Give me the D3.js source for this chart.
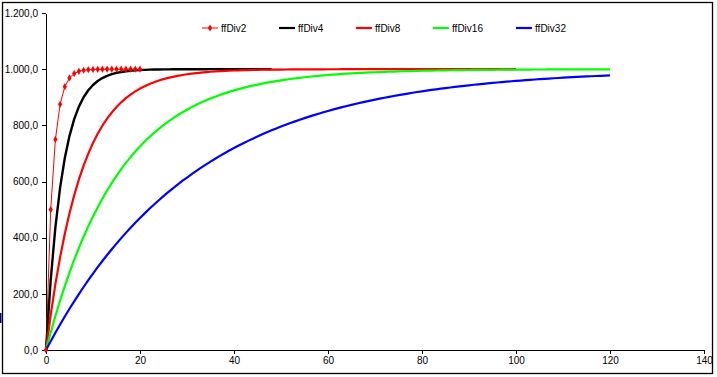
<!DOCTYPE html>
<meta charset="utf-8">
<style>
  body { margin: 0; background: #fff; }
  text { font-family: "Liberation Sans", Arial, sans-serif; }
</style>

<!-- Load d3.js -->
<script src="https://d3js.org/d3.v7.min.js"></script>

<!-- Create a div where the graph will take place -->
<div id="my_dataviz"></div>

<script>

// series names and y ticks
var seriesNames = ["ffDiv2", "ffDiv4", "ffDiv8", "ffDiv16", "ffDiv32"];
var yTicks = [0, 200, 400, 600, 800, 1000, 1200];
var xTicks = [0, 20, 40, 60, 80, 100, 120, 140];

// values, one per step (x = 0, 1, 2, ...)
var ffDiv2 = [0, 500, 750, 875, 937.5, 968.8, 984.4, 992.2, 996.1, 998.0, 999.0, 999.5, 999.8, 999.9, 999.9,
  1000, 1000, 1000, 1000, 1000, 1000];

var ffDiv4 = [0, 250, 437.5, 578.1, 683.6, 762.7, 822.0, 866.5, 899.9, 924.9, 943.7, 957.8, 968.3, 976.2, 982.2,
  986.6, 990.0, 992.5, 994.4, 995.8, 996.8, 997.6, 998.2, 998.7, 999.0, 999.2, 999.4, 999.6, 999.7, 999.8,
  999.8, 999.9, 999.9, 999.9, 999.9, 1000, 1000, 1000, 1000, 1000, 1000, 1000, 1000, 1000, 1000,
  1000, 1000, 1000, 1000];

var ffDiv8 = [0, 125, 234.4, 330.1, 413.8, 487.1, 551.2, 607.3, 656.4, 699.3, 736.9, 769.8, 798.6, 823.8, 845.8,
  865.1, 881.9, 896.7, 909.6, 920.9, 930.8, 939.4, 947.0, 953.6, 959.4, 964.5, 968.9, 972.8, 976.2, 979.2,
  981.8, 984.1, 986.1, 987.8, 989.3, 990.7, 991.8, 992.9, 993.7, 994.5, 995.2, 995.8, 996.3, 996.8, 997.2,
  997.5, 997.9, 998.1, 998.4, 998.6, 998.7, 998.9, 999.0, 999.2, 999.3, 999.4, 999.4, 999.5, 999.6, 999.6,
  999.7, 999.7, 999.7, 999.8, 999.8, 999.8, 999.9, 999.9, 999.9, 999.9, 999.9, 999.9, 999.9, 999.9, 999.9,
  1000, 1000, 1000, 1000, 1000, 1000, 1000, 1000, 1000, 1000, 1000, 1000, 1000,
  1000, 1000, 1000, 1000, 1000, 1000, 1000, 1000, 1000, 1000, 1000, 1000, 1000];

var ffDiv16 = [0, 62.5, 121.1, 176.0, 227.5, 275.8, 321.1, 363.5, 403.3, 440.6, 475.5, 508.3, 539.0, 567.9, 594.9,
  620.2, 643.9, 666.2, 687.0, 706.6, 724.9, 742.1, 758.2, 773.4, 787.5, 800.8, 813.3, 824.9, 835.9, 846.1,
  855.7, 864.8, 873.2, 881.1, 888.6, 895.5, 902.1, 908.2, 913.9, 919.3, 924.3, 929.1, 933.5, 937.7, 941.6,
  945.2, 948.6, 951.8, 954.9, 957.7, 960.3, 962.8, 965.1, 967.3, 969.3, 971.3, 973.1, 974.7, 976.3, 977.8,
  979.2, 980.5, 981.7, 982.9, 983.9, 984.9, 985.9, 986.8, 987.6, 988.4, 989.1, 989.8, 990.4, 991.0, 991.6,
  992.1, 992.6, 993.1, 993.5, 993.9, 994.3, 994.6, 995.0, 995.3, 995.6, 995.9, 996.1, 996.4, 996.6, 996.8,
  997.0, 997.2, 997.4, 997.5, 997.7, 997.8, 998.0, 998.1, 998.2, 998.3, 998.4, 998.5, 998.6, 998.7, 998.8,
  998.9, 998.9, 999.0, 999.1, 999.1, 999.2, 999.2, 999.3, 999.3, 999.4, 999.4, 999.4, 999.5, 999.5, 999.5,
  999.6];

var ffDiv32 = [0, 31.3, 61.5, 90.9, 119.3, 146.8, 173.4, 199.3, 224.3, 248.5, 272.0, 294.8, 316.8, 338.2, 358.8,
  378.9, 398.3, 417.1, 435.3, 453.0, 470.1, 486.6, 502.7, 518.2, 533.3, 547.8, 562.0, 575.7, 588.9, 601.8,
  614.2, 626.3, 637.9, 649.3, 660.2, 670.8, 681.1, 691.1, 700.7, 710.1, 719.2, 727.9, 736.4, 744.7, 752.6,
  760.4, 767.9, 775.1, 782.1, 789.0, 795.6, 801.9, 808.1, 814.1, 819.9, 825.6, 831.0, 836.3, 841.4, 846.4,
  851.2, 855.8, 860.3, 864.7, 868.9, 873.0, 877.0, 880.8, 884.5, 888.2, 891.7, 895.0, 898.3, 901.5, 904.6,
  907.6, 910.4, 913.2, 916.0, 918.6, 921.1, 923.6, 926.0, 928.3, 930.5, 932.7, 934.8, 936.8, 938.8, 940.7,
  942.6, 944.4, 946.1, 947.8, 949.4, 951.0, 952.5, 954.0, 955.5, 956.9, 958.2, 959.5, 960.8, 962.0, 963.2,
  964.3, 965.5, 966.5, 967.6, 968.6, 969.6, 970.5, 971.4, 972.3, 973.2, 974.0, 974.8, 975.6, 976.4, 977.1,
  977.8];

var seriesValues = [ffDiv2, ffDiv4, ffDiv8, ffDiv16, ffDiv32];
var colors = ["#ff0000", "#000000", "#ff0000", "#00ff00", "#0000ff"];
var widths = [1, 2.4, 2.2, 2.2, 2.2];

// set the dimensions and margins of the graph
var W = 717, H = 377;
var margin = {top: 13, right: 13, bottom: 27, left: 46},
    width = 704 - margin.left,
    height = 350 - margin.top;

var root = d3.select("#my_dataviz")
  .append("svg")
    .attr("width", W)
    .attr("height", H);

// outer chart border
root.append("rect")
  .attr("x", 2.5).attr("y", 2.5)
  .attr("width", 710).attr("height", 371)
  .attr("fill", "#fff")
  .attr("stroke", "#000")
  .attr("stroke-width", 1.3);

// small mark on the left edge
root.append("rect")
  .attr("x", 0).attr("y", 313)
  .attr("width", 1.5).attr("height", 10)
  .attr("fill", "#00007a");

var svg = root.append("g")
  .attr("transform", "translate(" + margin.left + "," + margin.top + ")");

var locale = d3.formatLocale({decimal: ",", thousands: ".", grouping: [3], currency: ["", ""]});

// X axis
var x = d3.scaleLinear()
  .domain([0, 140])
  .range([0, width]);
var xAxis = svg.append("g")
  .attr("transform", "translate(0," + height + ")")
  .call(d3.axisBottom(x).tickValues(xTicks).tickSize(4).tickPadding(3).tickSizeOuter(0));

// Y axis
var y = d3.scaleLinear()
  .domain([0, 1200])
  .range([height, 0]);
var yAxis = svg.append("g")
  .call(d3.axisLeft(y).tickValues(yTicks).tickFormat(locale.format(",.1f")).tickSize(4).tickPadding(4).tickSizeOuter(0));

[xAxis, yAxis].forEach(function(a) {
  a.select(".domain").attr("stroke", "#000").attr("shape-rendering", "crispEdges");
  a.selectAll(".tick line").attr("stroke", "#000").attr("shape-rendering", "crispEdges");
  a.selectAll("text")
    .attr("fill", "#000")
    .style("font-family", "'Liberation Sans', Arial, sans-serif")
    .style("font-size", "10px");
});

// Lines
var line = d3.line()
  .x(function(d, i) { return x(i); })
  .y(function(d) { return y(d); });

seriesValues.forEach(function(vals, k) {
  svg.append("path")
    .datum(vals)
    .attr("fill", "none")
    .attr("stroke", colors[k])
    .attr("stroke-width", widths[k])
    .attr("stroke-linejoin", "round")
    .attr("d", line);
});

// markers for ffDiv2
var diamond = d3.symbol().type(d3.symbolDiamond).size(15);
svg.selectAll("mymarker")
  .data(ffDiv2)
  .enter()
  .append("path")
    .attr("transform", function(d, i) { return "translate(" + x(i) + "," + y(d) + ")"; })
    .attr("d", diamond)
    .attr("fill", "#ff0000");

// Legend
var legendX = [202, 279, 356, 433, 516];
var legend = root.append("g");
seriesNames.forEach(function(name, k) {
  var g = legend.append("g").attr("transform", "translate(" + legendX[k] + ",28)");
  g.append("line")
    .attr("x1", 0).attr("x2", 16)
    .attr("y1", 0).attr("y2", 0)
    .attr("stroke", colors[k])
    .attr("stroke-width", k === 0 ? 1 : 2.2);
  if (k === 0) {
    g.append("path").attr("transform", "translate(8,0)").attr("d", diamond).attr("fill", "#ff0000");
  }
  g.append("text")
    .attr("x", 19)
    .attr("y", 4)
    .attr("fill", "#000")
    .style("font-size", "10px")
    .text(name);
});

</script>
